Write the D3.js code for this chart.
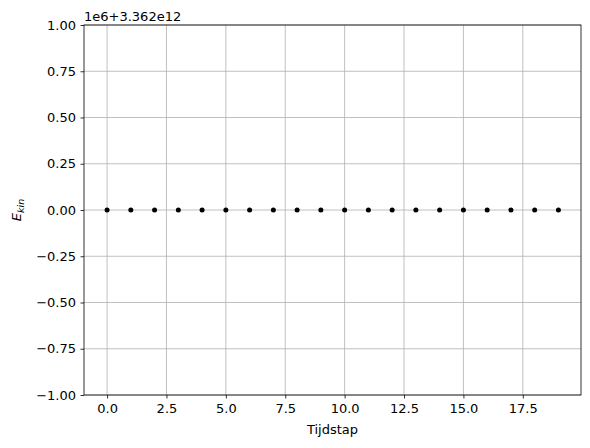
<!DOCTYPE html>
<html>
<head>
<meta charset="utf-8">
<script src="https://d3js.org/d3.v7.min.js"></script>
<style>
  body { margin: 0; background: #fff; }
  svg { font-family: "DejaVu Sans", sans-serif; }
  .grid line { stroke: #b0b0b0; stroke-width: 0.8px; }
</style>
</head>
<body>
<div id="chart"></div>
<script>
// timesteps and kinetic energy (relative to offset 3.362e12 + 1e6)
const steps = d3.range(0, 20);
const ekin = [0, 0, 0, 0, 0, 0, 0, 0, 0, 0, 0, 0, 0, 0, 0, 0, 0, 0, 0, 0];
const xTicks = [0, 2.5, 5, 7.5, 10, 12.5, 15, 17.5];
const yTicks = [-1, -0.75, -0.5, -0.25, 0, 0.25, 0.5, 0.75, 1];

const width = 590, height = 448;
const m = {top: 25, right: 9, bottom: 53, left: 84};

const svg = d3.select("#chart").append("svg")
  .attr("width", width)
  .attr("height", height);

const x = d3.scaleLinear().domain([-0.95, 19.95]).range([m.left + 0.5, width - m.right]);
const y = d3.scaleLinear().domain([-1, 1]).range([height - m.bottom, m.top]);

// grid
const grid = svg.append("g").attr("class", "grid");
grid.selectAll(".gx").data(xTicks).enter().append("line")
  .attr("x1", d => x(d)).attr("x2", d => x(d))
  .attr("y1", m.top).attr("y2", height - m.bottom);
grid.selectAll(".gy").data(yTicks).enter().append("line")
  .attr("y1", d => y(d)).attr("y2", d => y(d))
  .attr("x1", m.left).attr("x2", width - m.right);

// axes
const xAxis = svg.append("g")
  .attr("transform", `translate(0,${height - m.bottom})`)
  .call(d3.axisBottom(x).tickValues(xTicks).tickFormat(d3.format(".1f")).tickSizeOuter(0).tickSize(3.5).tickPadding(5.5));
const yAxis = svg.append("g")
  .attr("transform", `translate(${m.left},0)`)
  .call(d3.axisLeft(y).tickValues(yTicks).tickFormat(d3.format(".2f")).tickSizeOuter(0).tickSize(3.5).tickPadding(4.5));

[xAxis, yAxis].forEach(g => {
  g.select(".domain").remove();
  g.selectAll("text").attr("font-size", 13).attr("font-family", "DejaVu Sans").attr("fill", "#000");
  g.selectAll("line").attr("stroke", "#000").attr("stroke-width", 0.8);
});
yAxis.selectAll("text").text(d => d < 0 ? "\u2212" + d3.format(".2f")(-d) : d3.format(".2f")(d));

// frame
svg.append("rect")
  .attr("x", m.left).attr("y", m.top)
  .attr("width", width - m.left - m.right)
  .attr("height", height - m.top - m.bottom)
  .attr("fill", "none").attr("stroke", "#000").attr("stroke-width", 0.8);

// points
svg.append("g").selectAll("circle")
  .data(steps).enter().append("circle")
  .attr("cx", d => x(d))
  .attr("cy", (d, i) => y(ekin[i]))
  .attr("r", 2.5)
  .attr("fill", "#000");

// offset text
svg.append("text")
  .attr("x", m.left).attr("y", m.top - 4)
  .attr("font-size", 13)
  .text("1e6+3.362e12");

// labels
svg.append("text")
  .attr("x", (m.left + width - m.right) / 2).attr("y", height - 14)
  .attr("text-anchor", "middle").attr("font-size", 13)
  .text("Tijdstap");

const yl = svg.append("text")
  .attr("transform", `translate(21,${(m.top + height - m.bottom) / 2}) rotate(-90)`)
  .attr("text-anchor", "middle").attr("font-size", 13)
  .attr("font-style", "italic");
yl.append("tspan").text("E");
yl.append("tspan").attr("font-size", 9.5).attr("dy", 3).text("kin");
</script>
</body>
</html>
